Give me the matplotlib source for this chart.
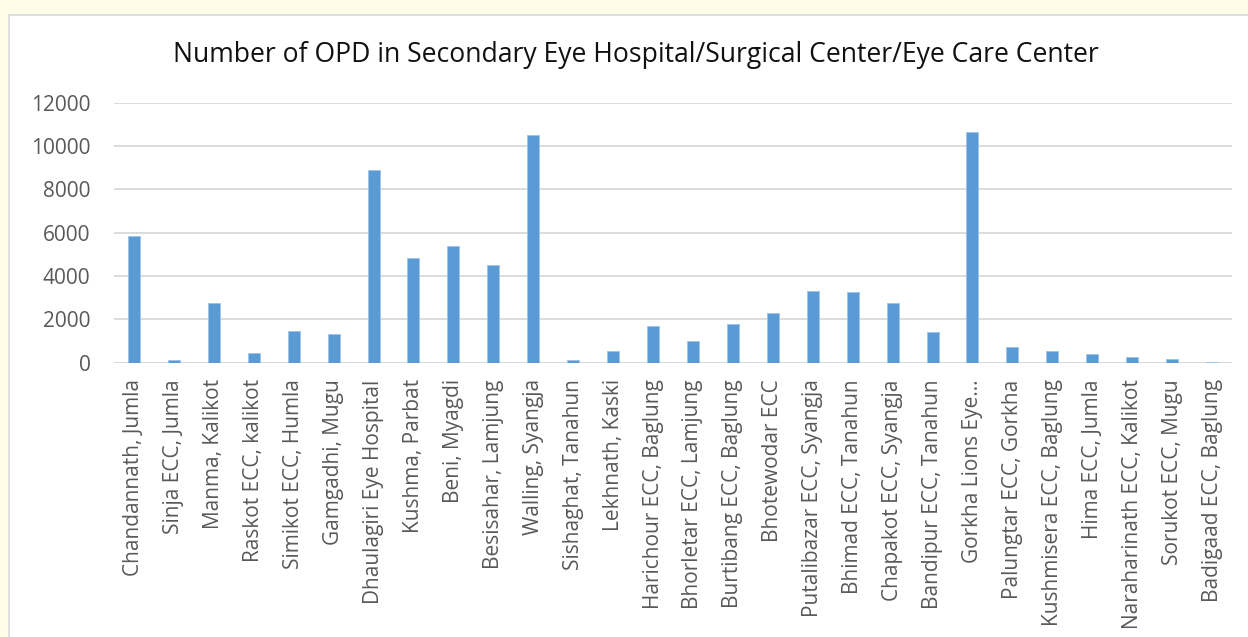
import matplotlib.pyplot as plt
from matplotlib.patches import Rectangle
import numpy as np

plt.rcParams['font.family'] = ['Open Sans', 'DejaVu Sans']

centers = [
    'Chandannath, Jumla', 'Sinja ECC, Jumla', 'Manma, Kalikot',
    'Raskot ECC, kalikot', 'Simikot ECC, Humla', 'Gamgadhi, Mugu',
    'Dhaulagiri Eye Hospital', 'Kushma, Parbat', 'Beni, Myagdi',
    'Besisahar, Lamjung', 'Walling, Syangja', 'Sishaghat, Tanahun',
    'Lekhnath, Kaski', 'Harichour ECC, Baglung', 'Bhorletar ECC, Lamjung',
    'Burtibang ECC, Baglung', 'Bhotewodar ECC', 'Putalibazar ECC, Syangja',
    'Bhimad ECC, Tanahun', 'Chapakot ECC, Syangja', 'Bandipur ECC, Tanahun',
    'Gorkha Lions Eye\u2026', 'Palungtar ECC, Gorkha', 'Kushmisera ECC, Baglung',
    'Hima ECC, Jumla', 'Naraharinath ECC, Kalikot', 'Sorukot ECC, Mugu',
    'Badigaad ECC, Baglung',
]
opd = [5850, 130, 2750, 460, 1480, 1340, 8890, 4820, 5385, 4495, 10500,
       110, 530, 1680, 990, 1775, 2295, 3325, 3265, 2755, 1405, 10630,
       740, 555, 400, 250, 155, 30]
yticks = [0, 2000, 4000, 6000, 8000, 10000, 12000]

fig = plt.figure(figsize=(12.48, 6.37), dpi=100)
fig.patch.set_facecolor('#FFFDE8')
# white chart area with thin grey border
fig.patches.append(Rectangle((9 / 1248, -0.05), 1.1, 1 - 15 / 637 + 0.05,
                             transform=fig.transFigure, facecolor='white',
                             edgecolor='#D9D9D9', linewidth=1.2, zorder=-5))

ax = fig.add_axes([114 / 1248, 1 - 362.7 / 637, 1118 / 1248, 260 / 637])
ax.set_zorder(2)
ax.set_facecolor('none')
x = np.arange(len(centers))
ax.bar(x, opd, width=0.3, color='#5B9BD5', edgecolor='#9DC3E6',
       linewidth=0.6, zorder=3)

ax.set_xlim(-0.5, len(centers) - 0.5)
ax.set_ylim(0, 12000)
ax.set_yticks(yticks)
ax.set_yticklabels([str(v) for v in yticks])
ax.set_xticks(x)
ax.set_xticklabels(centers, rotation=90, va='top', ha='center')
ax.tick_params(axis='both', length=0, labelsize=15, labelcolor='#595959')
ax.tick_params(axis='y', pad=17)
ax.tick_params(axis='x', pad=12)

ax.grid(axis='y', color='#D9D9D9', linewidth=1.3, zorder=0)
for s in ['top', 'right', 'left', 'bottom']:
    ax.spines[s].set_visible(False)
ax.axhline(0, color='#D9D9D9', linewidth=1.3, zorder=2)

fig.text(636 / 1248, 1 - 55 / 637, 'Number of OPD in Secondary Eye Hospital/Surgical Center/Eye Care Center',
         ha='center', va='center', fontsize=19.1, color='#111111', zorder=3)

fig.savefig('out.png', dpi=100, facecolor=fig.get_facecolor())
